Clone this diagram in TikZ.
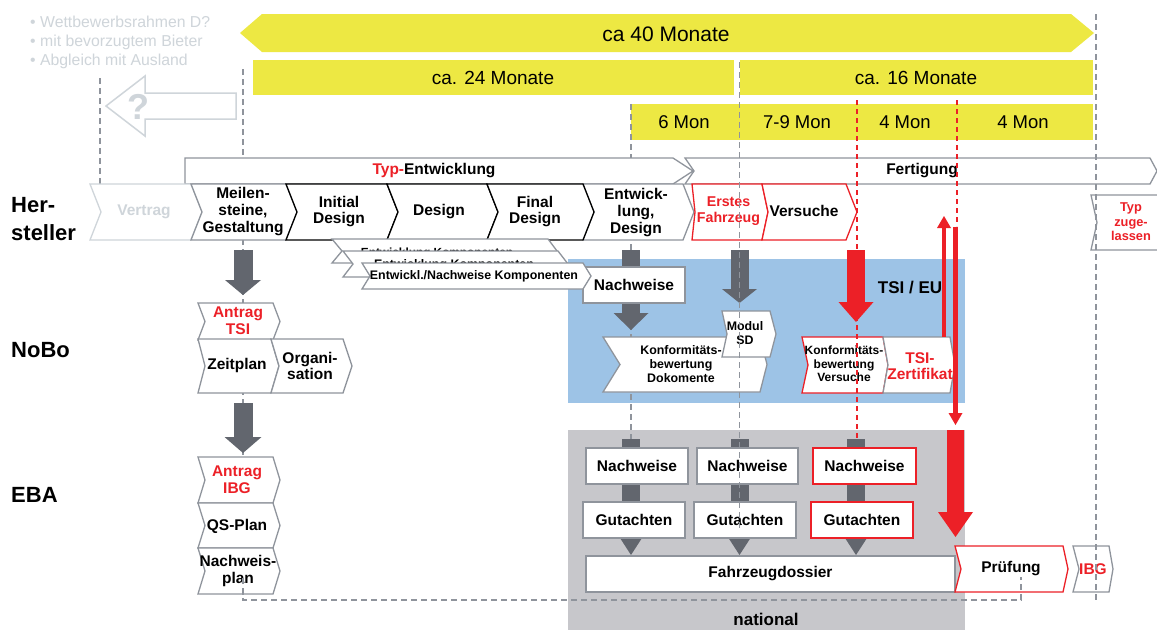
\documentclass[tikz,border=0pt]{standalone}
\usepackage{fontspec}
\setmainfont{Liberation Sans}
\usetikzlibrary{arrows.meta}

\definecolor{ylw}{HTML}{EDE843}
\definecolor{dgrey}{HTML}{62666E}
\definecolor{ogrey}{HTML}{8F949C}
\definecolor{lgrey}{HTML}{CFD5DA}
\definecolor{blu}{HTML}{9DC3E6}
\definecolor{gbg}{HTML}{C7C7CB}
\definecolor{tred}{HTML}{EC2027}

% chevron outline: style, left x, right x, top y, bottom y, notch depth, tip depth
\newcommand{\chevshape}[7]{%
  \draw[#1] (#2,#4) -- (#3,#4) -- ({#3+#7},{(#4+#5)/2}) -- (#3,#5) -- (#2,#5) -- ({#2+#6},{(#4+#5)/2}) -- cycle;}

\tikzset{
  t15/.style={font=\bfseries\fontsize{15.5}{16.6}\selectfont, align=center, inner sep=0pt},
  t12/.style={font=\bfseries\fontsize{12.4}{13.6}\selectfont, align=center, inner sep=0pt},
  t22/.style={font=\bfseries\fontsize{22}{28}\selectfont, align=left, inner sep=0pt},
  ytxt/.style={font=\fontsize{19}{22}\selectfont, inner sep=0pt},
  bul/.style={font=\fontsize{15.8}{19}\selectfont, text=lgrey, inner sep=0pt, anchor=base west},
  chgrey/.style={draw=ogrey, fill=white, line width=1.3pt},
  chblack/.style={draw=black, fill=white, line width=1.3pt},
  chred/.style={draw=tred, fill=white, line width=1.3pt},
  chlight/.style={draw=lgrey, fill=white, line width=1.3pt},
  whbox/.style={draw=ogrey, fill=white, line width=1.3pt},
  redbox/.style={draw=tred, fill=white, line width=1.3pt},
  gdash/.style={draw=ogrey, line width=1.3pt, dash pattern=on 6pt off 4pt},
  rdash/.style={draw=tred, line width=1.2pt, dash pattern=on 5pt off 4pt},
  garr/.style={draw=dgrey, line width=19pt, -{Triangle[width=36pt,length=15pt,line width=0pt]}},
  colarr/.style={draw=dgrey, line width=18pt, -{Triangle[width=22pt,length=17pt,line width=0pt]}},
  rarr/.style={draw=tred, line width=18pt, -{Triangle[width=35pt,length=20pt,line width=0pt]}},
  rbig/.style={draw=tred, line width=17pt, -{Triangle[width=35pt,length=25pt,line width=0pt]}},
  rthin/.style={draw=tred, line width=4.5pt, -{Triangle[width=14pt,length=12pt,line width=0pt]}},
}

\begin{document}
\begin{tikzpicture}[x=1pt,y=-1pt]
\useasboundingbox (0,0) rectangle (1157,630);
\fill[white] (0,0) rectangle (1157,630);

% NoBo (TSI / EU) and EBA (national) areas
\fill[blu] (568,259) rectangle (965,403);
\fill[gbg] (568,430) rectangle (965,630);

% time spans
\fill[ylw] (240,33) -- (262,14) -- (1071,14) -- (1094,33) -- (1071,52) -- (262,52) -- cycle;
\node[ytxt, font=\fontsize{21}{24}\selectfont] (m40) at (666,34) {ca 40 Monate};
\fill[ylw] (253,60) rectangle (734,95);
\node[ytxt] (m24) at (493,78) {ca. 24 Monate};
\fill[ylw] (740,60) rectangle (1093,95);
\node[ytxt] (m16) at (916,78) {ca. 16 Monate};
\fill[ylw] (631,104) rectangle (1093,140);
\node[ytxt, font=\fontsize{18.5}{22}\selectfont] (p1) at (684,122) {6 Mon};
\node[ytxt, font=\fontsize{18.5}{22}\selectfont] (p2) at (797,122) {7-9 Mon};
\node[ytxt, font=\fontsize{18.5}{22}\selectfont] (p3) at (905,122) {4 Mon};
\node[ytxt, font=\fontsize{18.5}{22}\selectfont] (p4) at (1023,122) {4 Mon};

% guide lines behind the process shapes
\draw[gdash] (100,78) -- (100,184);
\draw[gdash] (243,69) -- (243,600);
\draw[gdash] (631,104) -- (631,440);

% open questions before the contract
\node[bul] (b1) at (30,27) {\textbullet\ Wettbewerbsrahmen D?};
\node[bul] (b2) at (30,46) {\textbullet\ mit bevorzugtem Bieter};
\node[bul] (b3) at (30,65) {\textbullet\ Abgleich mit Ausland};
\draw[lgrey, line width=1.5pt, fill=white] (106,106) -- (145,76) -- (145,93) -- (236,93) -- (236,119) -- (145,119) -- (145,136) -- cycle;
\node[font=\bfseries\fontsize{36}{36}\selectfont, text=lgrey, inner sep=0pt] (qm) at (138,107) {?};

% phase bars
\draw[chgrey] (185,158) -- (673,158) -- (693,171) -- (673,184) -- (185,184) -- cycle;
\node[t15] (typent) at (434,171) {\textcolor{tred}{Typ-}Entwicklung};
\draw[chgrey] (685,158) -- (1150,158) -- (1157,171) -- (1150,184) -- (685,184) -- (694,171) -- cycle;
\node[t15] (fert) at (922,171) {Fertigung};

% block arrows from the manufacturer row
\coordinate (a1s) at (243,250); \coordinate (a1e) at (243,295);
\draw[garr] (a1s) -- (a1e);
\coordinate (a3s) at (631,250); \coordinate (a3e) at (631,330);
\draw[garr, line width=18pt, -{Triangle[width=35pt,length=17pt,line width=0pt]}] (a3s) -- (a3e);
\coordinate (a4s) at (739.5,250); \coordinate (a4e) at (739.5,303);
\draw[garr, line width=18pt, -{Triangle[width=35pt,length=14pt,line width=0pt]}] (a4s) -- (a4e);
\coordinate (a5s) at (856,250); \coordinate (a5e) at (856,322);
\draw[rarr] (a5s) -- (a5e);

% manufacturer process row
\chevshape{chlight}{90}{191}{184}{240}{11}{11}
\node[t15, text=lgrey] (vert) at (144,212) {Vertrag};
\chevshape{chgrey}{191}{286}{184}{240}{11}{11}
\node[t15] (meil) at (243,211.5) {Meilen-\\steine,\\Gestaltung};
\chevshape{chgrey}{583}{683}{184}{240}{11}{11}
\node[t15] (entw) at (636,212.5) {Entwick-\\lung,\\Design};
\chevshape{chblack}{286}{387}{184}{240}{11}{11}
\node[t15] (init) at (339,211.5) {Initial\\Design};
\chevshape{chblack}{387}{487}{184}{240}{11}{11}
\node[t15] (desg) at (439,212) {Design};
\chevshape{chblack}{487}{583}{184}{240}{11}{11}
\node[t15] (finl) at (535,211.5) {Final\\Design};
\chevshape{chred}{692}{762}{184}{240}{3}{6}
\node[t15, font=\bfseries\fontsize{14.2}{15.5}\selectfont, text=tred] (erst) at (728.5,211) {Erstes\\Fahrzeug};
\chevshape{chred}{762}{846}{184}{240}{6}{11}
\node[t15] (vers) at (804,211) {Versuche};

% evidence box of the conformity path
\node[whbox, t15, minimum width=102pt, minimum height=36pt] (nwb) at (634,285) {Nachweise};

% component work packages
\chevshape{chgrey}{332}{548}{239}{263}{10}{9}
\node[t12, font=\bfseries\fontsize{11.8}{13}\selectfont] (k1) at (437,253) {Entwicklung Komponenten};
\chevshape{chgrey}{343}{558}{251}{277}{10}{10}
\node[t12] (k2) at (454,265) {Entwicklung Komponenten};
\chevshape{chgrey}{362}{583}{263}{289}{8}{8}
\node[t12] (k3) at (474,276) {Entwickl./Nachweise Komponenten};

% notified body
\chevshape{chgrey}{603}{760}{337}{392}{17}{7}
\node[t12] (kdok) at (681,364) {Konformitäts-\\bewertung\\Dokomente};
\chevshape{chgrey}{722}{770}{311}{357}{5}{6}
\node[t12] (msd) at (745,333) {Modul\\SD};
\chevshape{chred}{802}{883}{337}{393}{6}{5}
\node[t12, font=\bfseries\fontsize{12}{13.6}\selectfont] (kver) at (844,364) {Konformitäts-\\bewertung\\Versuche};
\chevshape{chgrey}{883}{950}{337}{393}{5}{5}
\node[t15, text=tred] (tsiz) at (920,366) {TSI-\\Zertifikat};

% certificate loop
\coordinate (r1s) at (944,337); \coordinate (r1e) at (944,216);
\draw[rthin] (r1s) -- (r1e);
\coordinate (r2s) at (955.5,227); \coordinate (r2e) at (955.5,425);
\draw[rthin] (r2s) -- (r2e);
\coordinate (r3s) at (955.5,430); \coordinate (r3e) at (955.5,537);
\draw[rbig] (r3s) -- (r3e);

% left column: NoBo and EBA applications
\chevshape{chgrey}{198}{273}{303}{340}{7}{7}
\node[t15, text=tred] (atsi) at (238,321) {Antrag\\TSI};
\chevshape{chgrey}{198}{271}{339}{393}{7}{8}
\node[t15] (zeit) at (237,365) {Zeitplan};
\chevshape{chgrey}{271}{343}{339}{393}{8}{9}
\node[t15] (orga) at (310,366) {Organi-\\sation};
\coordinate (a2s) at (243,403); \coordinate (a2e) at (243,453);
\draw[garr, -{Triangle[width=37pt,length=16pt,line width=0pt]}] (a2s) -- (a2e);
\chevshape{chgrey}{198}{273}{457}{503}{7}{7}
\node[t15, text=tred] (aibg) at (237,480) {Antrag\\IBG};
\chevshape{chgrey}{198}{273}{503}{548}{7}{7}
\node[t15] (qsp) at (237,526) {QS-Plan};
\chevshape{chgrey}{198}{273}{548}{594}{7}{7}
\node[t15] (nwp) at (238,571) {Nachweis-\\plan};

% national assessment columns
\coordinate (c1s) at (631,439); \coordinate (c1e) at (631,555);
\coordinate (c2s) at (739.5,439); \coordinate (c2e) at (739.5,555);
\coordinate (c3s) at (856,439); \coordinate (c3e) at (856,555);
\draw[colarr] (c1s) -- (c1e);
\draw[colarr] (c2s) -- (c2e);
\draw[colarr] (c3s) -- (c3e);
\node[whbox, t15, minimum width=102pt, minimum height=36pt] (nw1) at (637,466) {Nachweise};
\node[whbox, t15, minimum width=101pt, minimum height=36pt] (nw2) at (747.5,466) {Nachweise};
\node[redbox, t15, minimum width=103pt, minimum height=36pt] (nw3) at (864.5,466) {Nachweise};
\node[whbox, t15, minimum width=102pt, minimum height=36pt] (gu1) at (634,520) {Gutachten};
\node[whbox, t15, minimum width=102pt, minimum height=36pt] (gu2) at (745,520) {Gutachten};
\node[redbox, t15, minimum width=102pt, minimum height=36pt] (gu3) at (862,520) {Gutachten};
\node[whbox, t15, minimum width=369pt, minimum height=36pt] (fzd) at (770.5,574) {Fahrzeugdossier};

% approval steps
\chevshape{chred}{955}{1063}{546}{592}{6}{5}
\node[t15] (pruef) at (1011,569) {Prüfung};
\chevshape{chgrey}{1073}{1109}{546}{592}{6}{4}
\node[t15, text=tred] (ibg) at (1093,569) {IBG};
\chevshape{chgrey}{1091}{1175}{195}{250}{6}{0}
\node[t12, font=\bfseries\fontsize{12.8}{14.5}\selectfont, text=tred] (typz) at (1131,222) {Typ\\zuge-\\lassen};

% guide lines drawn over the shapes
\draw[gdash] (739.5,62) -- (739.5,530);
\draw[rdash] (857,100) -- (857,440);
\draw[rdash] (957,100) -- (957,226);
\draw[gdash] (1096,14) -- (1096,600);
\draw[gdash] (243,578) -- (243,600) -- (1021,600) -- (1021,577);

% row and area labels
\node[t22, anchor=west] (hst) at (11,219) {Her-\\steller};
\node[t22, anchor=west] (nobo) at (11,350) {NoBo};
\node[t22, anchor=west] (eba) at (11,495) {EBA};
\node[font=\bfseries\fontsize{17}{20}\selectfont, inner sep=0pt] (tsieu) at (910,288) {TSI / EU};
\node[font=\bfseries\fontsize{17}{20}\selectfont, inner sep=0pt] (natl) at (766,619) {national};
\end{tikzpicture}
\end{document}
